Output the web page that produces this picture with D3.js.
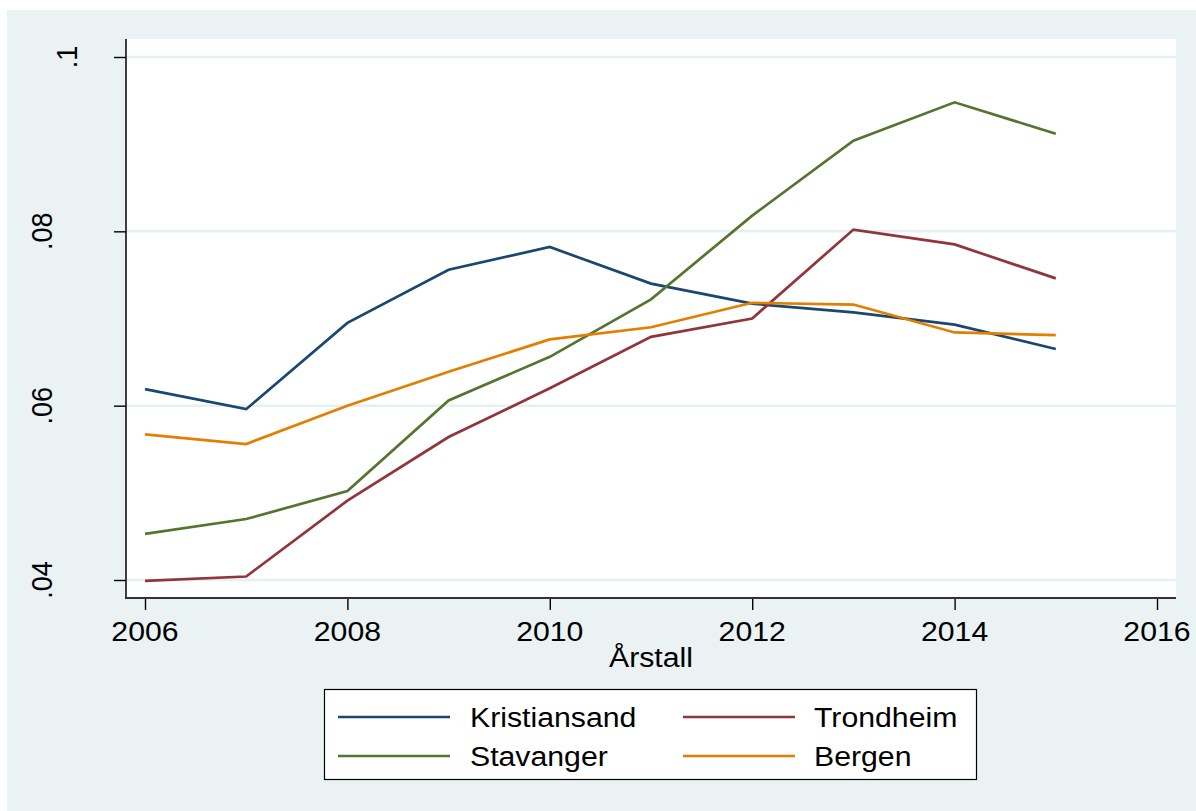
<!DOCTYPE html>
<html>
<head>
<meta charset="utf-8">
<script src="https://cdn.jsdelivr.net/npm/d3@7"></script>
<style>
  html, body { margin: 0; padding: 0; background: #ffffff; }
  svg { display: block; }
  text { font-family: "Liberation Sans", Arial, Helvetica, sans-serif; fill: #000; }
</style>
</head>
<body>
<svg id="chart" width="1196" height="811"></svg>
<script>
// ---- data ----
const years = [2006, 2007, 2008, 2009, 2010, 2011, 2012, 2013, 2014, 2015];
const kristiansand = [0.0619, 0.0596, 0.0695, 0.0756, 0.0782, 0.0740, 0.0717, 0.0707, 0.0693, 0.0665];
const trondheim    = [0.0399, 0.0404, 0.0491, 0.0564, 0.0620, 0.0679, 0.0700, 0.0802, 0.0785, 0.0746];
const stavanger    = [0.0453, 0.0470, 0.0502, 0.0606, 0.0656, 0.0722, 0.0818, 0.0904, 0.0948, 0.0912];
const bergen       = [0.0567, 0.0556, 0.0600, 0.0639, 0.0676, 0.0690, 0.0718, 0.0716, 0.0684, 0.0681];
const seriesNames  = ["Kristiansand", "Trondheim", "Stavanger", "Bergen"];
const seriesColors = ["#1a476f", "#90353b", "#55752f", "#e37e00"];
const yTicks = [0.04, 0.06, 0.08, 0.1];
const yTickLabels = [".04", ".06", ".08", ".1"];
const xTicks = [2006, 2008, 2010, 2012, 2014, 2016];
const xTitle = "Årstall";

// ---- layout ----
const svg = d3.select("#chart");
const SX = 1.12; // horizontal text stretch seen in the reference
const plot = { left: 126, right: 1176, top: 39, bottom: 598 };

const x = d3.scaleLinear().domain([2006, 2016]).range([145, 1157]);
const y = d3.scaleLinear().domain([0.04, 0.1]).range([580, 57]);

// outer graph region
svg.append("rect").attr("x", 7).attr("y", 10).attr("width", 1189).attr("height", 801)
  .attr("fill", "#eaf2f3");
// plot region
svg.append("rect").attr("x", plot.left).attr("y", plot.top)
  .attr("width", plot.right - plot.left).attr("height", plot.bottom - plot.top)
  .attr("fill", "#ffffff");

// grid lines
svg.append("g").selectAll("line").data(yTicks).join("line")
  .attr("x1", plot.left).attr("x2", plot.right)
  .attr("y1", d => y(d)).attr("y2", d => y(d))
  .attr("stroke", "#e6eff1").attr("stroke-width", 2.5);

// series lines
const allSeries = [kristiansand, trondheim, stavanger, bergen];
const line = d3.line().x((d, i) => x(years[i])).y(d => y(d));
svg.append("g").selectAll("path").data(allSeries).join("path")
  .attr("d", d => line(d))
  .attr("fill", "none")
  .attr("stroke", (d, i) => seriesColors[i])
  .attr("stroke-width", 2.7)
  .attr("stroke-linejoin", "miter");

// y axis
const yAxis = d3.axisLeft(y).tickValues(yTicks).tickSize(12).tickFormat("");
const gy = svg.append("g").attr("transform", `translate(${plot.left},0)`).call(yAxis);
gy.select(".domain").remove();
gy.selectAll(".tick line").attr("stroke", "#000").attr("stroke-width", 1.4);
svg.append("line").attr("x1", plot.left).attr("x2", plot.left)
  .attr("y1", plot.top).attr("y2", plot.bottom + 1)
  .attr("stroke", "#111").attr("stroke-width", 1.6);

// y tick labels (rotated)
svg.append("g").selectAll("text").data(yTicks).join("text")
  .attr("transform", (d, i) => {
    const lab = yTickLabels[i];
    const bx = lab.length < 3 ? 77 : 52;
    return `translate(${bx},${y(d)}) scale(${SX},1) rotate(-90)`;
  })
  .attr("text-anchor", "middle")
  .attr("font-size", 27)
  .text((d, i) => yTickLabels[i]);

// x axis
const xAxis = d3.axisBottom(x).tickValues(xTicks).tickSize(12).tickFormat("");
const gx = svg.append("g").attr("transform", `translate(0,${plot.bottom})`).call(xAxis);
gx.select(".domain").remove();
gx.selectAll(".tick line").attr("stroke", "#000").attr("stroke-width", 1.4);
svg.append("line").attr("x1", plot.left - 0.8).attr("x2", plot.right)
  .attr("y1", plot.bottom).attr("y2", plot.bottom)
  .attr("stroke", "#333").attr("stroke-width", 2);

svg.append("g").selectAll("text").data(xTicks).join("text")
  .attr("transform", d => `translate(${x(d)},641) scale(${SX},1)`)
  .attr("text-anchor", "middle")
  .attr("font-size", 27)
  .text(d => d);

// axis title
svg.append("text")
  .attr("transform", `translate(${(plot.left + plot.right) / 2},667) scale(${SX},1)`)
  .attr("text-anchor", "middle")
  .attr("font-size", 27)
  .text(xTitle);

// legend
const lg = svg.append("g");
lg.append("rect").attr("x", 324.5).attr("y", 689.5).attr("width", 652).attr("height", 90)
  .attr("fill", "#fff").attr("stroke", "#000").attr("stroke-width", 1.2);
const legendPos = [
  { lx: 338, tx: 470, cy: 717 },
  { lx: 683, tx: 814, cy: 717 },
  { lx: 338, tx: 470, cy: 756 },
  { lx: 683, tx: 814, cy: 756 }
];
seriesNames.forEach((name, i) => {
  const p = legendPos[i];
  lg.append("line").attr("x1", p.lx).attr("x2", p.lx + 112)
    .attr("y1", p.cy).attr("y2", p.cy)
    .attr("stroke", seriesColors[i]).attr("stroke-width", 2.7);
  lg.append("text")
    .attr("transform", `translate(${p.tx},${p.cy + 10}) scale(${SX},1)`)
    .attr("font-size", 27)
    .text(name);
});
</script>
</body>
</html>
